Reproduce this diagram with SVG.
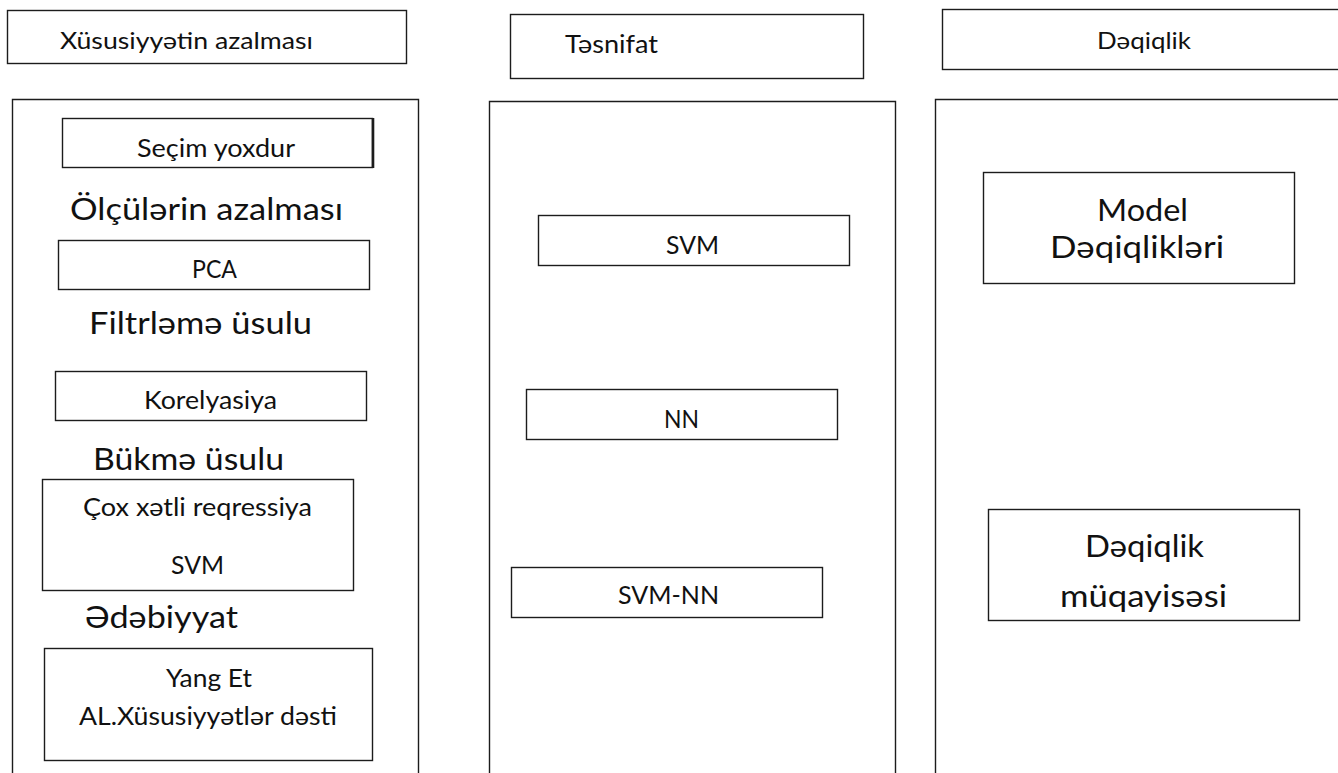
<svg xmlns="http://www.w3.org/2000/svg" width="1338" height="773" viewBox="0 0 1338 773">
  <style>
    .box { fill: #ffffff; stroke: #1c1c1c; stroke-width: 1.4; }
    .panel { fill: none; stroke: #1c1c1c; stroke-width: 1.4; }
    text { font-family: Lato, "Noto Sans", "Liberation Sans", sans-serif; fill: #111111; }
    .t18 { font-size: 25px; }
    .t15 { font-size: 24px; }
    .t22 { font-size: 30px; }
  </style>
  <rect x="0" y="0" width="1338" height="773" fill="#ffffff"/>

  <!-- column headers -->
  <g id="header-feature-reduction">
    <rect class="box" x="7.5" y="10.5" width="399" height="53"/>
    <text class="t15" x="60" y="48.5" textLength="253" lengthAdjust="spacingAndGlyphs">Xüsusiyyətin azalması</text>
  </g>
  <g id="header-classification">
    <rect class="box" x="510.5" y="14.5" width="353" height="64"/>
    <text class="t18" x="565" y="53" textLength="93" lengthAdjust="spacingAndGlyphs">Təsnifat</text>
  </g>
  <g id="header-accuracy">
    <rect class="box" x="942.5" y="9.5" width="420" height="60"/>
    <text class="t15" x="1097" y="48.5" textLength="94" lengthAdjust="spacingAndGlyphs">Dəqiqlik</text>
  </g>

  <!-- tall column panels, open past the lower edge -->
  <g id="panel-feature-reduction">
    <path class="panel" d="M12.5,790 V99.5 H418.5 V790"/>
  </g>
  <g id="panel-classification">
    <path class="panel" d="M489.5,790 V101.5 H895.5 V790"/>
  </g>
  <g id="panel-accuracy">
    <path class="panel" d="M935.5,790 V99.5 H1360"/>
  </g>

  <!-- feature reduction column -->
  <g id="node-no-selection">
    <rect class="box" x="62.5" y="118.5" width="310" height="49"/>
    <line x1="373" y1="118" x2="373" y2="168" stroke="#1c1c1c" stroke-width="2.6"/>
    <text class="t18" x="137" y="157" textLength="158" lengthAdjust="spacingAndGlyphs">Seçim yoxdur</text>
  </g>
  <g id="label-dimension-reduction">
    <text class="t22" x="70" y="220" textLength="273" lengthAdjust="spacingAndGlyphs">Ölçülərin azalması</text>
  </g>
  <g id="node-pca">
    <rect class="box" x="58.5" y="240.5" width="311" height="49"/>
    <text class="t18" x="192" y="278" textLength="45" lengthAdjust="spacingAndGlyphs">PCA</text>
  </g>
  <g id="label-filter-method">
    <text class="t22" x="89" y="334" textLength="223" lengthAdjust="spacingAndGlyphs">Filtrləmə üsulu</text>
  </g>
  <g id="node-correlation">
    <rect class="box" x="55.5" y="371.5" width="311" height="49"/>
    <text class="t18" x="144" y="409" textLength="133" lengthAdjust="spacingAndGlyphs">Korelyasiya</text>
  </g>
  <g id="label-wrapper-method">
    <text class="t22" x="93" y="470" textLength="191" lengthAdjust="spacingAndGlyphs">Bükmə üsulu</text>
  </g>
  <g id="node-regression-svm">
    <rect class="box" x="42.5" y="479.5" width="311" height="111"/>
    <text class="t18" x="83" y="516" textLength="229" lengthAdjust="spacingAndGlyphs">Çox xətli reqressiya</text>
    <text class="t18" x="171" y="574" textLength="53" lengthAdjust="spacingAndGlyphs">SVM</text>
  </g>
  <g id="label-literature">
    <text class="t22" x="85" y="628" textLength="153" lengthAdjust="spacingAndGlyphs">Ədəbiyyat</text>
  </g>
  <g id="node-yang-et-al">
    <rect class="box" x="44.5" y="648.5" width="328" height="112"/>
    <text class="t18" x="166" y="687" textLength="86" lengthAdjust="spacingAndGlyphs">Yang Et</text>
    <text class="t18" x="79" y="725" textLength="258" lengthAdjust="spacingAndGlyphs">AL.Xüsusiyyətlər dəsti</text>
  </g>

  <!-- classification column -->
  <g id="node-svm">
    <rect class="box" x="538.5" y="215.5" width="311" height="50"/>
    <text class="t18" x="666" y="254" textLength="53" lengthAdjust="spacingAndGlyphs">SVM</text>
  </g>
  <g id="node-nn">
    <rect class="box" x="526.5" y="389.5" width="311" height="50"/>
    <text class="t18" x="664" y="428" textLength="35" lengthAdjust="spacingAndGlyphs">NN</text>
  </g>
  <g id="node-svm-nn">
    <rect class="box" x="511.5" y="567.5" width="311" height="50"/>
    <text class="t18" x="618" y="604" textLength="101" lengthAdjust="spacingAndGlyphs">SVM-NN</text>
  </g>

  <!-- accuracy column -->
  <g id="node-model-accuracies">
    <rect class="box" x="983.5" y="172.5" width="311" height="111"/>
    <text class="t22" x="1097" y="221" textLength="91" lengthAdjust="spacingAndGlyphs">Model</text>
    <text class="t22" x="1050" y="258" textLength="174" lengthAdjust="spacingAndGlyphs">Dəqiqlikləri</text>
  </g>
  <g id="node-accuracy-comparison">
    <rect class="box" x="988.5" y="509.5" width="311" height="111"/>
    <text class="t22" x="1085" y="557" textLength="119" lengthAdjust="spacingAndGlyphs">Dəqiqlik</text>
    <text class="t22" x="1060" y="607" textLength="167" lengthAdjust="spacingAndGlyphs">müqayisəsi</text>
  </g>
</svg>
